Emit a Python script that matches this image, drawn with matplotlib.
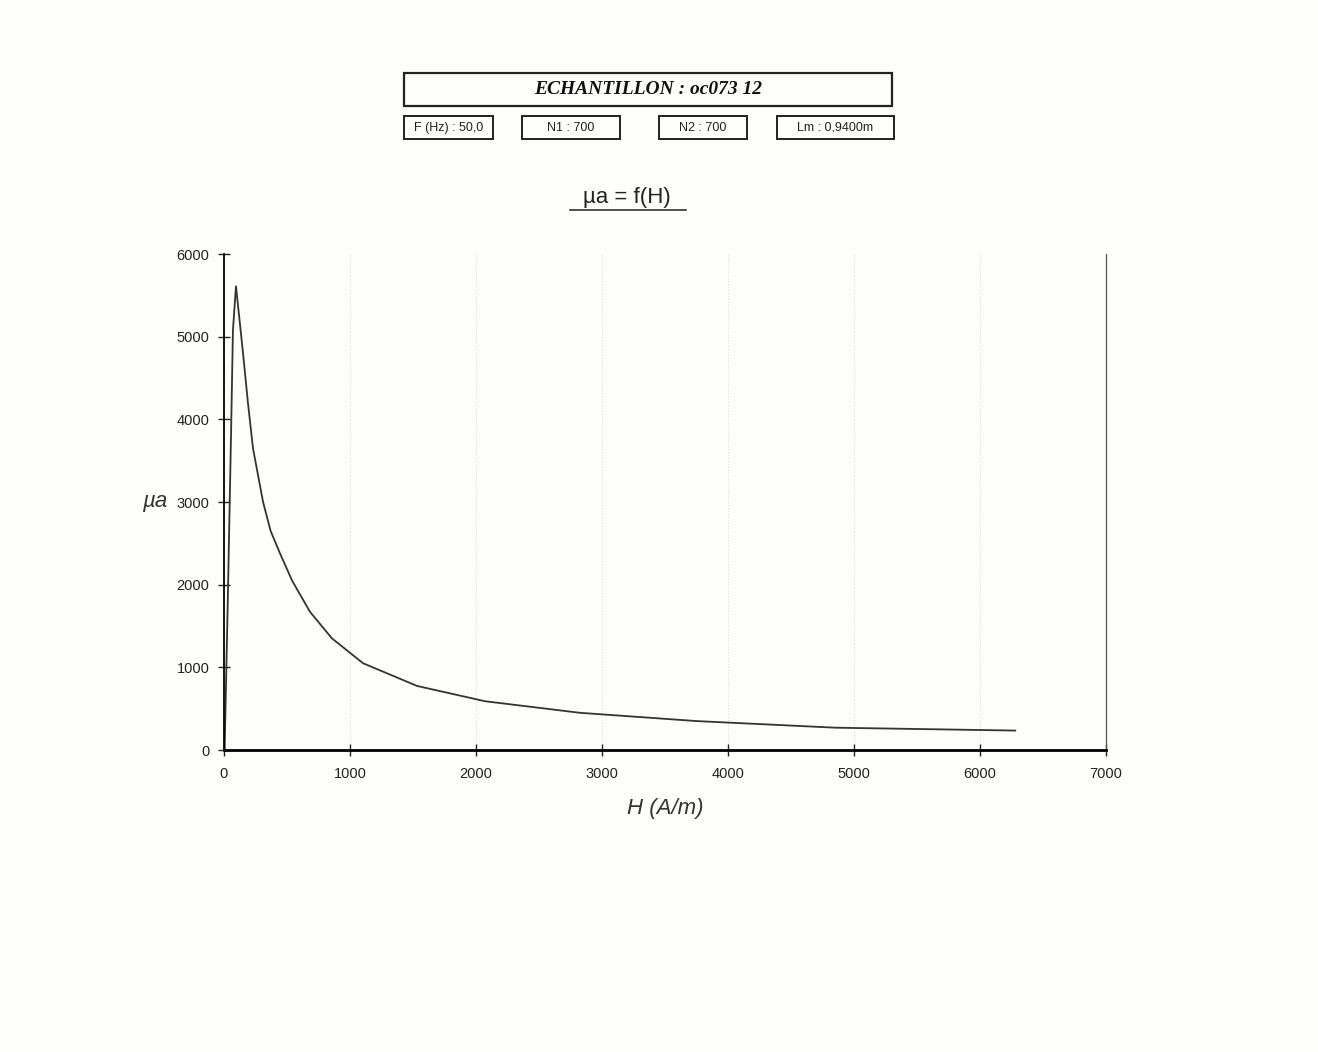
import matplotlib
matplotlib.use('Agg')
import matplotlib.pyplot as plt
from matplotlib.patches import Rectangle
from matplotlib.lines import Line2D

H = [5, 30, 56, 71, 95, 120, 151, 190, 230, 310, 370, 444, 540, 683, 857, 1103, 1532, 2071, 2825, 3750, 4850, 6280]
mu_a = [0, 1800, 3830, 5080, 5610, 5250, 4800, 4200, 3650, 3000, 2650, 2380, 2050, 1670, 1350, 1050, 775, 590, 450, 350, 270, 235]

x_ticks = [0, 1000, 2000, 3000, 4000, 5000, 6000, 7000]
y_ticks = [0, 1000, 2000, 3000, 4000, 5000, 6000]

titre = 'ECHANTILLON : oc073 12'
params = ['F (Hz) : 50,0', 'N1 : 700', 'N2 : 700', 'Lm : 0,9400m']

W, Hpx = 1318, 1052
fig = plt.figure(figsize=(W / 100, Hpx / 100), dpi=100)
fig.patch.set_facecolor('#fdfdfc')

narrow = ['Liberation Sans Narrow', 'Liberation Sans', 'DejaVu Sans']


def fx(px):
    return px / W


def fy(py):
    return 1 - py / Hpx


# cadre du titre
fig.patches.append(Rectangle((fx(404), fy(106)), fx(892) - fx(404), fy(73) - fy(106),
                             transform=fig.transFigure, fill=False, lw=1.6, ec='#222222'))
fig.text(fx(648), fy(89), titre, ha='center', va='center', fontsize=14,
         family=['Liberation Serif', 'DejaVu Serif'], weight='bold', style='italic', color='#111111')

# petits cadres des parametres
boites = [(404, 493), (522, 620), (659, 747), (777, 894)]
for (x0, x1), txt in zip(boites, params):
    fig.patches.append(Rectangle((fx(x0), fy(139)), fx(x1) - fx(x0), fy(116) - fy(139),
                                 transform=fig.transFigure, fill=False, lw=1.4, ec='#222222'))
    fig.text(fx((x0 + x1) / 2), fy(128), txt, ha='center', va='center', fontsize=9,
             family=narrow, color='#222222')

# titre du graphique souligne
fig.text(fx(627), fy(197), 'µa = f(H)', ha='center', va='center', fontsize=16,
         family=['Liberation Sans', 'DejaVu Sans'], color='#222222')
fig.add_artist(Line2D([fx(570), fx(686)], [fy(210), fy(210)], transform=fig.transFigure,
                      color='#333333', lw=1.2))

ax = fig.add_axes([fx(224), fy(750), fx(1106) - fx(224), fy(254) - fy(750)])
ax.set_facecolor('none')
ax.plot(H, mu_a, color='#333333', lw=1.3)

ax.set_xlim(0, 7000)
ax.set_ylim(0, 6000)
ax.set_xticks(x_ticks)
ax.set_yticks(y_ticks)
ax.tick_params(direction='inout', length=9, width=1, colors='#222222', labelsize=10.5)
for lab in ax.get_xticklabels() + ax.get_yticklabels():
    lab.set_family(narrow)
ax.tick_params(axis='x', pad=8)
ax.tick_params(axis='y', pad=6)

for v in x_ticks[1:-1]:
    ax.axvline(v, color='#dddddd', lw=0.8, ls=':', zorder=0)

ax.spines['top'].set_visible(False)
ax.spines['left'].set_linewidth(1.3)
ax.spines['bottom'].set_linewidth(2.0)
ax.spines['right'].set_linewidth(0.9)
ax.spines['right'].set_color('#555555')

ax.set_xlabel('H (A/m)', fontsize=16, style='italic', family=['Liberation Sans', 'DejaVu Sans'],
              color='#333333', labelpad=12)
ax.set_ylabel('µa', fontsize=16, style='italic', family=['Liberation Sans', 'DejaVu Sans'],
              color='#333333', rotation=0, labelpad=16, va='center')

fig.savefig('out.png', dpi=100, facecolor=fig.get_facecolor())
